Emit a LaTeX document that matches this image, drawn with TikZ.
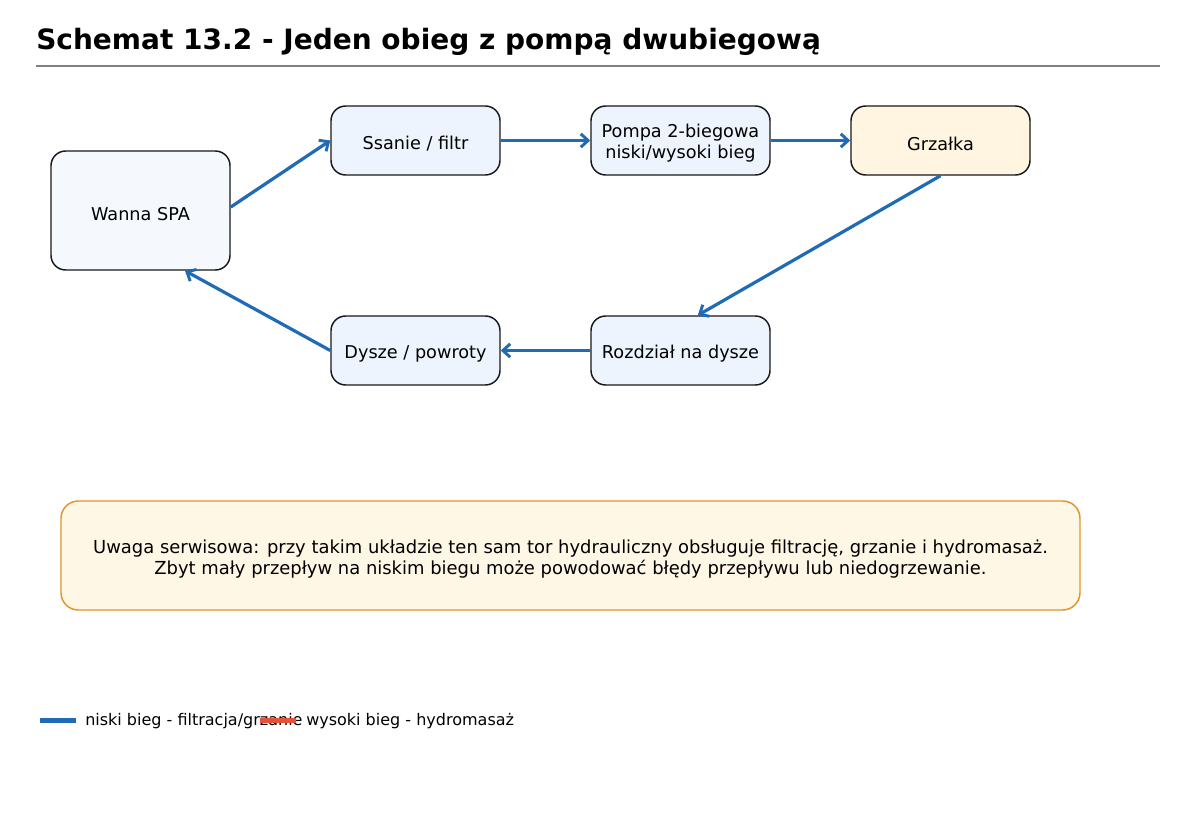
\documentclass[tikz,border=0pt]{standalone}
\usepackage{fontspec}
\setmainfont{DejaVu Sans}
\usetikzlibrary{arrows.meta}
\definecolor{flow}{HTML}{1F6BB5}
\definecolor{hot}{HTML}{E2533A}
\definecolor{boxblue}{HTML}{EDF4FE}
\definecolor{tubblue}{HTML}{F5F9FE}
\definecolor{cream}{HTML}{FFF5E1}
\definecolor{notefill}{HTML}{FFF7E6}
\definecolor{noteline}{HTML}{E0962A}
\definecolor{rulegray}{HTML}{808080}
\tikzset{
  stepbox/.style={draw=black!90, line width=1.1pt, rounded corners=11pt, fill=boxblue,
    inner sep=0pt, minimum height=51.75pt},
  boxtext/.style={yshift=-2.25pt, inner sep=0pt, align=center, font=\fontsize{13.25}{15.75}\selectfont},
  flowline/.style={draw=flow, line width=2.4pt, -{Straight Barb[length=5.5pt,width=10pt,line width=2.2pt]}},
  legtext/.style={anchor=west, inner sep=0pt, font=\fontsize{12}{14}\selectfont}
}
\begin{document}
\begin{tikzpicture}[x=0.75pt,y=-0.75pt]
\path[fill=white] (0,0) rectangle (1200,820);
\node[anchor=base west, inner sep=0pt, font=\bfseries\fontsize{21}{25}\selectfont] (title) at (36,50) {Schemat 13.2 - Jeden obieg z pompą dwubiegową};
\draw[rulegray, line width=1.5pt] (36,66) coordinate (r1) -- (1160,66) coordinate (r2);

\node[stepbox, fill=tubblue, minimum width=134.25pt, minimum height=89.25pt,
  label={[boxtext, yshift=-0.75pt]center:Wanna SPA}] (wanna) at (140.5,210.5) {};
\node[stepbox, minimum width=126.75pt, label={[boxtext]center:Ssanie / filtr}] (ssanie) at (415.5,140.5) {};
\node[stepbox, minimum width=134.25pt, label={[boxtext]center:Pompa 2-biegowa\\niski/wysoki bieg}] (pompa) at (680.5,140.5) {};
\node[stepbox, fill=cream, minimum width=134.25pt, label={[boxtext]center:Grzałka}] (grzalka) at (940.5,140.5) {};
\node[stepbox, minimum width=134.25pt, label={[boxtext]center:Rozdział na dysze}] (rozdzial) at (680.5,350.5) {};
\node[stepbox, minimum width=126.75pt, label={[boxtext]center:Dysze / powroty}] (dysze) at (415.5,350.5) {};

\draw[flowline] ([yshift=2.6pt]wanna.east) -- (ssanie.west);
\draw[flowline] (ssanie.east) -- (pompa.west);
\draw[flowline] (pompa.east) -- (grzalka.west);
\draw[flowline] (grzalka.south) -- ([xshift=13pt]rozdzial.north);
\draw[flowline] (rozdzial.west) -- (dysze.east);
\draw[flowline] (dysze.west) -- ([xshift=33.4pt]wanna.south);

\node[draw=noteline, line width=1.1pt, fill=notefill, rounded corners=13pt, minimum width=764.25pt,
  minimum height=81.75pt, inner sep=0pt,
  label={[boxtext, yshift=-0.5pt, font=\fontsize{13.45}{15.6}\selectfont]center:Uwaga serwisowa: przy takim układzie ten sam tor hydrauliczny obsługuje filtrację, grzanie i hydromasaż.\\Zbyt mały przepływ na niskim biegu może powodować błędy przepływu lub niedogrzewanie.}] (note) at (570.5,555.5) {};

\node[legtext] (leg1) at (85,721.5) {niski bieg - filtracja/grzanie};
\node[legtext] (leg2) at (306,721.5) {wysoki bieg - hydromasaż};
\draw[flow, line width=3.75pt] (40,720) coordinate (l1a) -- (76,720) coordinate (l1b);
\draw[hot, line width=3.75pt] (260,720) coordinate (l2a) -- (296,720) coordinate (l2b);
\end{tikzpicture}
\end{document}
